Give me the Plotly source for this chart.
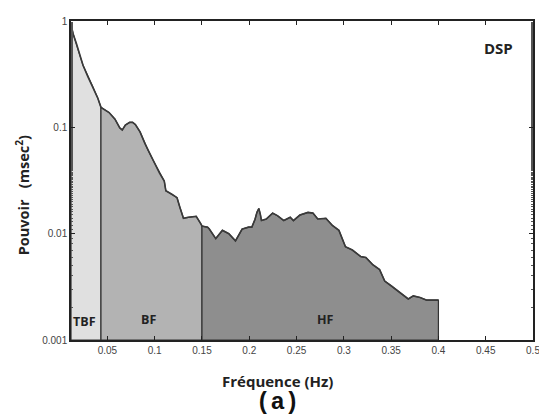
import plotly.graph_objects as go

# Power spectral density
freq = [0.0115, 0.0138, 0.0174, 0.0208, 0.0242, 0.0293, 0.0345, 0.0397, 0.0432,
        0.0518, 0.058, 0.0631, 0.0657, 0.069, 0.0735, 0.0766, 0.0796, 0.0845, 0.0897,
        0.0931, 0.0982, 0.1051, 0.1101, 0.1118, 0.1186, 0.1236, 0.1267, 0.1304,
        0.1355, 0.1439, 0.149, 0.15,
        0.1559, 0.1576, 0.1646, 0.1716, 0.1784, 0.1854, 0.1924, 0.1993, 0.2027,
        0.2061, 0.2081, 0.2101, 0.2117, 0.2129, 0.218, 0.2247, 0.2298, 0.2365,
        0.2433, 0.2467, 0.2535, 0.2621, 0.2673, 0.2724, 0.281, 0.2879, 0.2948,
        0.3017, 0.309, 0.3179, 0.3233, 0.3306, 0.3378, 0.3432, 0.3503, 0.3593,
        0.3681, 0.3734, 0.3806, 0.3876, 0.4]
power = [0.93, 0.754, 0.609, 0.475, 0.384, 0.2996, 0.2423, 0.1893, 0.1541,
         0.1376, 0.1194, 0.0986, 0.0945, 0.1051, 0.1113, 0.1113, 0.1062, 0.0906, 0.0702,
         0.0605, 0.0492, 0.0371, 0.0313, 0.0253, 0.0234, 0.0218, 0.0176, 0.01395,
         0.01425, 0.01456, 0.01228, 0.01177,
         0.01152, 0.01111, 0.00899, 0.01074, 0.00999, 0.00855, 0.01104, 0.01152, 0.01152,
         0.01366, 0.01585, 0.01725, 0.0152, 0.01328, 0.01374, 0.01561, 0.01477, 0.01328,
         0.01425, 0.01328, 0.01496, 0.01585, 0.01561, 0.01374, 0.01395, 0.01195, 0.01074,
         0.00753, 0.00702, 0.00609, 0.00596, 0.0051, 0.00459, 0.00358, 0.00322, 0.00279,
         0.00243, 0.0026, 0.00251, 0.00237, 0.00237]

band_names = ["TBF", "BF", "HF"]
band_edges = [0.0115, 0.0432, 0.15, 0.4]
band_colors = ["#e0e0e0", "#b3b3b3", "#8e8e8e"]
# label positions: (frequency, log10 power)
band_label_pos = [(0.026, -2.83), (0.093, -2.81), (0.281, -2.81)]

x_ticks = [0.05, 0.1, 0.15, 0.2, 0.25, 0.3, 0.35, 0.4, 0.45, 0.5]
y_ticks = [0.001, 0.01, 0.1, 1]
x_range = [0.0115, 0.5]
y_range_log = [-3, 0]
y_min = 10 ** y_range_log[0]

fig = go.Figure()

for i, name in enumerate(band_names):
    lo, hi = band_edges[i], band_edges[i + 1]
    xs = [f for f in freq if lo - 1e-9 <= f <= hi + 1e-9]
    ys = [p for f, p in zip(freq, power) if lo - 1e-9 <= f <= hi + 1e-9]
    fig.add_trace(go.Scatter(
        x=[xs[0]] + xs + [xs[-1], xs[0]],
        y=[y_min] + ys + [y_min, y_min],
        mode="lines", fill="toself", fillcolor=band_colors[i],
        line=dict(color="#333333", width=1.2), showlegend=False,
        hoverinfo="skip"))

fig.add_trace(go.Scatter(x=freq, y=power, mode="lines",
                         line=dict(color="#3a3a3a", width=1.6),
                         showlegend=False))

for name, (bx, by) in zip(band_names, band_label_pos):
    fig.add_annotation(x=bx, y=by, yref="y", xref="x", text=f"<b>{name}</b>",
                       showarrow=False, xanchor="center", yanchor="middle",
                       font=dict(size=12.5, color="#222222", family="Open Sans"))

fig.add_annotation(x=0.464, y=-0.25, xref="x", yref="y", text="<b>DSP</b>",
                   showarrow=False, xanchor="center", yanchor="middle",
                   font=dict(size=15, color="#222222", family="Open Sans"))

fig.add_annotation(x=0.447, y=-0.129, xref="paper", yref="paper",
                   text="<b>Fréquence (Hz)</b>", showarrow=False,
                   xanchor="center", yanchor="middle",
                   font=dict(size=15, color="#222222", family="Open Sans"))
fig.add_annotation(x=0.447, y=-0.197, xref="paper", yref="paper",
                   text="<b>(a)</b>", showarrow=False,
                   xanchor="center", yanchor="middle",
                   font=dict(size=24, color="#111111", family="Liberation Mono"))
fig.add_annotation(x=-0.105, y=0.455, xref="paper", yref="paper", textangle=-90,
                   text="<b>Pouvoir\u00a0\u00a0\u00a0(msec<sup>2</sup>)</b>", showarrow=False,
                   xanchor="center", yanchor="middle",
                   font=dict(size=14.5, color="#222222", family="Open Sans"))

fig.update_xaxes(range=x_range, tickvals=x_ticks,
                 ticktext=[f"{t:g}" for t in x_ticks],
                 ticks="inside", ticklen=4, tickcolor="#222222",
                 showline=True, linecolor="#222222", linewidth=1.5, mirror="ticks",
                 showgrid=False, zeroline=False,
                 tickfont=dict(size=10, color="#444444", family="Liberation Sans"))
fig.update_yaxes(type="log", range=y_range_log, tickvals=y_ticks,
                 ticktext=[f"{t:g}" for t in y_ticks],
                 ticks="inside", ticklen=4, tickcolor="#222222",
                 minor=dict(ticks="inside", ticklen=2, tickcolor="#555555",
                            showgrid=False),
                 showline=True, linecolor="#222222", linewidth=1.5, mirror="ticks",
                 showgrid=False, zeroline=False,
                 tickfont=dict(size=10, color="#444444", family="Liberation Sans"))

# page body adds an 8px offset, so the figure is 8px smaller on each side
fig.update_layout(width=539, height=411, plot_bgcolor="white", paper_bgcolor="white",
                  margin=dict(l=63, r=11, t=7, b=79))

fig.write_html("out.html")
